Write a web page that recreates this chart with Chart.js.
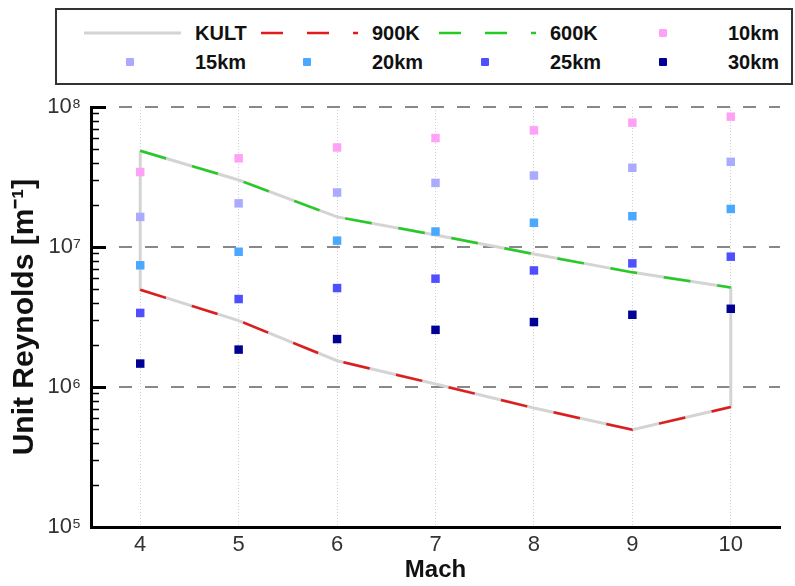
<!DOCTYPE html>
<html>
<head>
<meta charset="utf-8">
<script src="https://cdn.jsdelivr.net/npm/chart.js@4.4.1/dist/chart.umd.min.js"></script>
<style>
  body { margin: 0; background: #fff; }
  #wrap { position: relative; width: 795px; height: 586px; }
  #legend {
    position: absolute; left: 55px; top: 8px; width: 734px; height: 73px;
    border: 2px solid #333; background: #fff;
    font: bold 20px 'Liberation Sans', Arial, sans-serif; color: #111;
  }
  .item { position: absolute; height: 20px; width: 175px; }
  .item svg { position: absolute; left: 0; top: 0; }
  .item span { position: absolute; left: 111px; top: 0; line-height: 20px; white-space: nowrap; }
</style>
</head>
<body>
<div id="wrap">
  <canvas id="chart" width="795" height="586"></canvas>
  <div id="legend"></div>
</div>
<script>
// Mach numbers and the unit Reynolds number per altitude
const mach = [4, 5, 6, 7, 8, 9, 10];
const re10km = [3.43e7, 4.3e7, 5.14e7, 6.0e7, 6.81e7, 7.73e7, 8.53e7];
const re15km = [1.64e7, 2.05e7, 2.45e7, 2.87e7, 3.24e7, 3.68e7, 4.06e7];
const re20km = [7.4e6, 9.25e6, 1.11e7, 1.29e7, 1.49e7, 1.66e7, 1.87e7];
const re25km = [3.38e6, 4.25e6, 5.09e6, 5.94e6, 6.8e6, 7.64e6, 8.53e6];
const re30km = [1.47e6, 1.85e6, 2.2e6, 2.56e6, 2.91e6, 3.28e6, 3.62e6];

// KULT envelope: upper bound (600K) and lower bound (900K)
const re600K = [4.87e7, 3.01e7, 1.64e7, 1.22e7, 8.9e6, 6.59e6, 5.14e6];
const re900K = [4.95e6, 2.98e6, 1.54e6, 1.05e6, 7.08e5, 4.95e5, 7.2e5];

const reTicks = [1e5, 1e6, 1e7, 1e8];
const machTicks = [4, 5, 6, 7, 8, 9, 10];

const pts = (xs, ys) => xs.map((x, i) => ({ x: x, y: ys[i] }));

// closed outline: along the top, down at M10, back along the bottom, up at M4
const kult = pts(mach, re600K)
  .concat(pts(mach, re900K).reverse())
  .concat([{ x: mach[0], y: re600K[0] }]);

const sup = { 5: '\u2075', 6: '\u2076', 7: '\u2077', 8: '\u2078' };
const FONT = "'Liberation Sans', Arial, sans-serif";

function lineSet(label, data, color, width, dash, order) {
  return {
    label: label, data: data, showLine: true, borderColor: color, backgroundColor: color,
    borderWidth: width, borderDash: dash, pointRadius: 0, pointHoverRadius: 0,
    tension: 0, order: order
  };
}
function pointSet(label, ys, color) {
  return {
    label: label, data: pts(mach, ys), showLine: false, pointStyle: 'rect',
    pointRadius: 6, pointBorderWidth: 0, backgroundColor: color, borderColor: color, order: 0
  };
}

// minor/major ticks pointing into the plot on the y axis
const inwardTicks = {
  id: 'inwardTicks',
  afterDraw(chart) {
    const ys = chart.scales.y, ctx = chart.ctx, x0 = chart.chartArea.left;
    ctx.save();
    ctx.strokeStyle = '#000';
    for (let e = 5; e <= 8; e++) {
      for (let m = 1; m <= 9; m++) {
        const v = m * Math.pow(10, e);
        if (v > 1e8) break;
        const py = Math.round(ys.getPixelForValue(v)) + 0.5;
        ctx.lineWidth = m === 1 ? 3 : 1.5;
        ctx.beginPath();
        ctx.moveTo(x0, py);
        ctx.lineTo(x0 + (m === 1 ? 15 : 8), py);
        ctx.stroke();
      }
    }
    ctx.restore();
  }
};

Chart.defaults.font.family = FONT;

const chart = new Chart(document.getElementById('chart'), {
  type: 'scatter',
  data: {
    datasets: [
      lineSet('KULT', kult, '#d4d4d4', 3, [], 10),
      lineSet('900K', pts(mach, re900K), '#e01b1b', 2.5, [27, 27], 5),
      lineSet('600K', pts(mach, re600K), '#22cc22', 2.5, [27, 27], 5),
      pointSet('10km', re10km, '#ffa2f6'),
      pointSet('15km', re15km, '#aaaaff'),
      pointSet('20km', re20km, '#4aa8ff'),
      pointSet('25km', re25km, '#4f4fff'),
      pointSet('30km', re30km, '#000094')
    ]
  },
  options: {
    responsive: false,
    animation: false,
    devicePixelRatio: 1,
    layout: { padding: { top: 107, right: 15, left: 0, bottom: 0 } },
    plugins: { legend: { display: false }, tooltip: { enabled: false } },
    scales: {
      x: {
        type: 'linear', min: 3.5, max: 10.5,
        afterBuildTicks: s => { s.ticks = machTicks.map(v => ({ value: v })); },
        afterFit: s => { s.height = 59; },
        grid: { color: '#d0d0d0', lineWidth: 1, drawTicks: false },
        border: { color: '#000', width: 3, dash: [1, 2] },
        ticks: { font: { size: 22 }, color: '#333', padding: 5 },
        title: {
          display: true, text: 'Mach', color: '#111',
          font: { size: 24, weight: 'bold' }, padding: { top: 0, bottom: 1 }
        }
      },
      y: {
        type: 'logarithmic', min: 1e5, max: 1e8,
        afterBuildTicks: s => { s.ticks = reTicks.map(v => ({ value: v, major: true })); },
        afterFit: s => { s.width = 91; },
        grid: { color: '#888', lineWidth: 2, drawTicks: false },
        border: { color: '#000', width: 3, dash: [13, 13] },
        ticks: {
          font: { size: 22 }, color: '#333', padding: 10,
          callback: v => '10' + sup[Math.round(Math.log10(v))]
        },
        title: {
          display: true, text: 'Unit Reynolds [m\u207B\u00B9]', color: '#111',
          font: { size: 30, weight: 'bold' }, padding: { top: 7, bottom: 0 }
        }
      }
    }
  },
  plugins: [inwardTicks]
});

// legend laid out in four columns like the figure
const colText = [195, 372, 550, 728];
const rowMid = [33, 62];
const legend = document.getElementById('legend');
chart.data.datasets.forEach((ds, i) => {
  const col = i % 4, row = Math.floor(i / 4);
  const div = document.createElement('div');
  div.className = 'item';
  div.style.left = (colText[col] - 111 - 57) + 'px';
  div.style.top = (rowMid[row] - 10 - 10) + 'px';
  let mark;
  if (ds.showLine) {
    const dash = ds.borderDash.length ? ' stroke-dasharray="22 24"' : '';
    mark = '<line x1="0" y1="10" x2="97" y2="10" stroke="' + ds.borderColor +
      '" stroke-width="' + ds.borderWidth + '"' + dash + '/>';
  } else {
    mark = '<rect x="42" y="6" width="8" height="8" rx="1" fill="' + ds.backgroundColor + '"/>';
  }
  div.innerHTML = '<svg width="97" height="20">' + mark + '</svg><span>' + ds.label + '</span>';
  legend.appendChild(div);
});
</script>
</body>
</html>
